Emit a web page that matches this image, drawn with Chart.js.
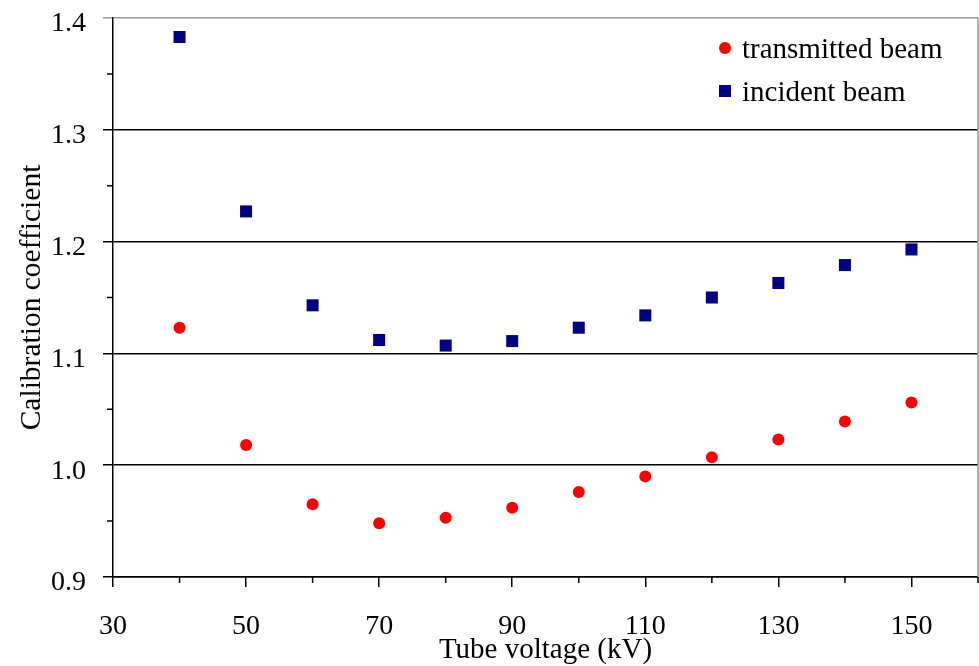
<!DOCTYPE html>
<html>
<head>
    <title>Calibration coefficient</title>
    <script src="https://cdn.jsdelivr.net/npm/chart.js"></script>
    <style>
        body { margin: 0; background: #fff; }
        #wrap { width: 979px; height: 666px; }
    </style>
</head>
<body>
    <div id="wrap"><canvas id="figure" width="979" height="666"></canvas></div>

    <script>
        // values
        var voltages = [40, 50, 60, 70, 80, 90, 100, 110, 120, 130, 140, 150];
        var transmitted = [1.123, 1.018, 0.965, 0.948, 0.953, 0.962, 0.976, 0.990, 1.007, 1.023, 1.039, 1.056];
        var incident = [1.383, 1.227, 1.143, 1.112, 1.107, 1.111, 1.123, 1.134, 1.150, 1.163, 1.179, 1.193];
        var seriesNames = ['transmitted beam', 'incident beam'];
        var xTicks = [30, 50, 70, 90, 110, 130, 150];
        var xMinorTicks = [40, 60, 80, 100, 120, 140, 160];
        var yTicks = [0.9, 1.0, 1.1, 1.2, 1.3, 1.4];
        var yMinorTicks = [0.95, 1.05, 1.15, 1.25, 1.35];

        var FONT = '"Liberation Serif", "Times New Roman", serif';

        function toPoints(ys) {
            return voltages.map(function (v, i) { return { x: v, y: ys[i] }; });
        }

        function noPadding(scale) {
            scale.paddingTop = 0;
            scale.paddingBottom = 0;
            scale.paddingLeft = 0;
            scale.paddingRight = 0;
        }

        // small ticks, grey frame on the right, and the boxed-in legend
        var extras = {
            id: 'extras',
            afterDraw: function (chart) {
                var ctx = chart.ctx;
                var a = chart.chartArea;
                var sx = chart.scales.x, sy = chart.scales.y;
                ctx.save();
                ctx.strokeStyle = '#000';
                ctx.lineWidth = 1.5;
                ctx.beginPath();
                xMinorTicks.forEach(function (v) {
                    var px = sx.getPixelForValue(v);
                    ctx.moveTo(px, a.bottom);
                    ctx.lineTo(px, a.bottom + 6);
                });
                yMinorTicks.forEach(function (v) {
                    var py = sy.getPixelForValue(v);
                    ctx.moveTo(a.left, py);
                    ctx.lineTo(a.left - 6, py);
                });
                ctx.stroke();

                ctx.strokeStyle = '#999';
                ctx.beginPath();
                ctx.moveTo(a.right, a.top);
                ctx.lineTo(a.right, a.bottom);
                ctx.stroke();

                // legend
                ctx.font = '29px ' + FONT;
                ctx.textBaseline = 'alphabetic';
                ctx.textAlign = 'left';
                var ds = chart.data.datasets;
                ctx.fillStyle = ds[0].backgroundColor;
                ctx.beginPath();
                ctx.arc(725, 48, 6, 0, Math.PI * 2);
                ctx.fill();
                ctx.fillStyle = ds[1].backgroundColor;
                ctx.fillRect(719, 85, 12, 12);
                ctx.fillStyle = '#000';
                ctx.fillText(ds[0].label, 742, 58);
                ctx.fillText(ds[1].label, 742, 101);
                ctx.restore();
            }
        };

        var ctx = document.getElementById('figure').getContext('2d');

        new Chart(ctx, {
            type: 'scatter',
            data: {
                datasets: [{
                    label: seriesNames[0],
                    data: toPoints(transmitted),
                    pointStyle: 'circle',
                    pointRadius: 6,
                    pointHoverRadius: 6,
                    backgroundColor: '#ff0000',
                    borderColor: '#ff0000',
                    borderWidth: 0
                }, {
                    label: seriesNames[1],
                    data: toPoints(incident),
                    pointStyle: 'rect',
                    pointRadius: 8.5,
                    pointHoverRadius: 8.5,
                    backgroundColor: '#000080',
                    borderColor: '#000080',
                    borderWidth: 0
                }]
            },
            options: {
                responsive: false,
                animation: false,
                events: [],
                layout: { autoPadding: false, padding: { top: 18, right: 1, left: 0, bottom: 0 } },
                plugins: {
                    legend: { display: false },
                    tooltip: { enabled: false }
                },
                scales: {
                    x: {
                        type: 'linear',
                        min: 30,
                        max: 160,
                        afterBuildTicks: function (scale) {
                            scale.ticks = xTicks.map(function (v) { return { value: v }; });
                        },
                        afterFit: function (scale) {
                            scale.height = 89;
                            noPadding(scale);
                        },
                        grid: {
                            drawOnChartArea: false,
                            tickLength: 10,
                            lineWidth: 1.5,
                            color: '#000'
                        },
                        border: { color: '#000', width: 1.5 },
                        ticks: {
                            color: '#000',
                            padding: 23,
                            maxRotation: 0,
                            font: { family: FONT, size: 28 }
                        },
                        title: {
                            display: true,
                            text: 'Tube voltage (kV)',
                            color: '#000',
                            padding: { top: 0, bottom: 0 },
                            font: { family: FONT, size: 29, lineHeight: 1.1 }
                        }
                    },
                    y: {
                        type: 'linear',
                        min: 0.9,
                        max: 1.4,
                        afterBuildTicks: function (scale) {
                            scale.ticks = yTicks.map(function (v) { return { value: v }; });
                        },
                        afterFit: function (scale) {
                            scale.width = 113;
                            noPadding(scale);
                        },
                        grid: {
                            tickLength: 10,
                            lineWidth: 1.5,
                            color: function (c) {
                                return c.tick && c.tick.value >= 1.39 ? '#999' : '#000';
                            }
                        },
                        border: { color: '#000', width: 1.5 },
                        ticks: {
                            color: '#000',
                            padding: 17,
                            labelOffset: 6,
                            font: { family: FONT, size: 28 },
                            callback: function (v) { return v.toFixed(1); }
                        },
                        title: {
                            display: true,
                            text: 'Calibration coefficient',
                            color: '#000',
                            padding: { top: 15, bottom: 0 },
                            font: { family: FONT, size: 29.5 }
                        }
                    }
                }
            },
            plugins: [extras]
        });
    </script>
</body>
</html>
